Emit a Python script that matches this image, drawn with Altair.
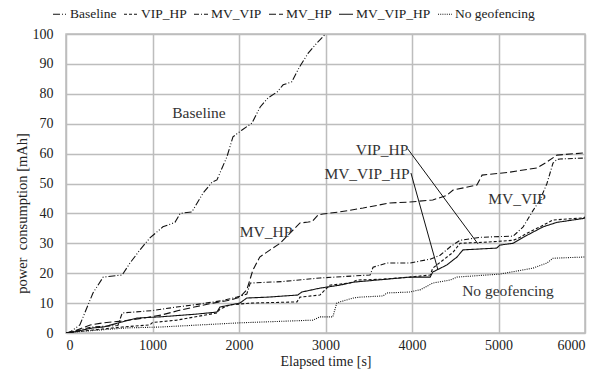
import altair as alt
import pandas as pd

FONT = "Liberation Serif, DejaVu Serif, serif"

series = ["Baseline", "VIP_HP", "MV_VIP", "MV_HP", "MV_VIP_HP", "No geofencing"]

baseline_x = [0, 46, 160, 312, 430, 650, 740, 855, 970, 1120, 1260, 1320, 1455, 1585, 1690, 1745, 1860, 1930, 2035, 2150, 2245, 2335, 2440, 2510, 2610, 2700, 2800, 2900, 3000]
baseline_y = [0, 0.3, 2.7, 13.4, 18.7, 19.4, 23.4, 27.8, 31.8, 35.5, 37, 40, 40.5, 46.8, 50.5, 51.2, 58.9, 65.6, 67.9, 70.2, 75.6, 78.6, 80.6, 83, 84, 89, 93.6, 97, 100]

viphp_x = [0, 80, 310, 650, 970, 1000, 1280, 1745, 1780, 1895, 2130, 2670, 2705, 2935, 3050, 3280, 3365, 3665, 3975, 4210, 4240, 4360, 4475, 4555, 4865, 5170, 5250, 5330, 5480, 5630, 5980, 6000]
viphp_y = [0, 0.3, 1, 2, 2.7, 3.5, 4.3, 6.7, 8, 9.4, 10, 10.4, 12, 12.7, 16, 16.7, 17.7, 18, 18.7, 19.4, 21.7, 24.4, 27, 30, 30.4, 31, 32, 33.4, 35.5, 37.8, 38.5, 38.8]

mvvip_x = [0, 80, 300, 600, 650, 1000, 1280, 1500, 1800, 1975, 2090, 2130, 2500, 2935, 3515, 3550, 3710, 3975, 4210, 4325, 4450, 4555, 4785, 5170, 5285, 5400, 5480, 5560, 5630, 5675, 5710, 5980, 6000]
mvvip_y = [0, 0.5, 2, 2.5, 6.7, 7.5, 8.7, 9.5, 10.8, 12, 13, 16.7, 17.2, 18.4, 19.4, 22, 23.4, 23.4, 24.7, 26, 29, 31, 32, 32.4, 35.5, 41, 44.5, 50, 56.8, 58, 58.2, 58.5, 58.5]

mvhp_x = [0, 80, 280, 430, 650, 900, 1100, 1300, 1500, 1700, 1900, 2010, 2090, 2160, 2240, 2360, 2475, 2590, 2705, 2800, 2845, 2915, 2970, 3165, 3435, 3745, 3975, 4240, 4400, 4475, 4750, 4810, 5130, 5445, 5560, 5675, 5980, 6000]
mvhp_y = [0, 0.5, 2.7, 3.4, 4, 5, 6, 7.5, 8.8, 10, 11, 12, 14.4, 21, 25.4, 27.8, 30, 33.4, 36.8, 37.1, 37.3, 39.5, 39.8, 40.5, 41.8, 43.5, 43.8, 44.5, 46, 47.8, 49.5, 52.8, 53.8, 55.2, 57.2, 59.5, 60.2, 60.5]

mvviphp_x = [0, 80, 310, 430, 650, 820, 1090, 1500, 1745, 1780, 2010, 2090, 2335, 2680, 2725, 2935, 3165, 3320, 3710, 3975, 4210, 4240, 4400, 4520, 4590, 4980, 5015, 5170, 5285, 5515, 5675, 5980, 6000]
mvviphp_y = [0, 0.3, 1.7, 2, 3.7, 5, 5.4, 6.3, 7, 8.7, 10, 11.7, 12, 12.7, 13.7, 15, 16, 17, 18, 18.7, 18.7, 20.4, 22.7, 25.4, 27.8, 28.4, 29.4, 30, 32, 35.5, 37, 38.3, 38.5]

nogeo_x = [0, 80, 700, 1090, 2010, 2855, 2935, 3085, 3130, 3165, 3320, 3400, 3665, 3710, 3975, 4100, 4240, 4440, 4520, 5015, 5400, 5560, 5630, 5980, 6000]
nogeo_y = [0, 0.3, 1.7, 2, 3.4, 4.3, 5.4, 5.4, 10, 10.4, 11.7, 12, 12.4, 13.4, 13.7, 14.5, 16.7, 17.7, 18.7, 19.7, 21.7, 23.4, 25, 25.4, 25.4]

dash_patterns = [[7, 2, 1, 2, 1, 2], [3, 2], [5, 2, 1, 2], [7, 3], [1, 0], [1, 1.2]]

label_text = ["Baseline", "MV_HP", "VIP_HP", "MV_VIP_HP", "MV_VIP", "No geofencing"]
label_x = [1537, 2312, 3653, 3480, 5214, 5110]
label_y = [73.6, 33.8, 61.2, 53.2, 44.8, 14.0]

leader_x = [3953, 3988]
leader_y = [61.5, 53.5]
leader_x2 = [4763, 4300]
leader_y2 = [29.8, 21.1]

x_ticks = [0, 1000, 2000, 3000, 4000, 5000, 6000]
y_ticks = list(range(0, 101, 10))

xs = [baseline_x, viphp_x, mvvip_x, mvhp_x, mvviphp_x, nogeo_x]
ys = [baseline_y, viphp_y, mvvip_y, mvhp_y, mvviphp_y, nogeo_y]
rows = []
for name, sx, sy in zip(series, xs, ys):
    for i, (a, b) in enumerate(zip(sx, sy)):
        rows.append({"series": name, "t": a, "p": b, "i": i})
df = pd.DataFrame(rows)

xscale = alt.Scale(domain=[0, 6000], nice=False)
yscale = alt.Scale(domain=[0, 100], nice=False)
xaxis = alt.Axis(values=x_ticks, format="d", title="Elapsed time [s]", labelOverlap=False,
                 titleY=32, titleBaseline="alphabetic", labelPadding=5, titleFontSize=14)
yaxis = alt.Axis(values=y_ticks, format="d", title="power\u00a0\u00a0consumption [mAh]", labelOverlap=False,
                 titleX=-44, titleY=179, titleBaseline="middle", labelPadding=13)
X = lambda f: alt.X(f, scale=xscale, axis=xaxis)
Y = lambda f: alt.Y(f, scale=yscale, axis=yaxis)

lines = alt.Chart(df).mark_line(color="#111111", strokeWidth=1.1, clip=True).encode(
    x=X("t:Q"),
    y=Y("p:Q"),
    strokeDash=alt.StrokeDash("series:N", sort=series,
                              scale=alt.Scale(domain=series, range=dash_patterns),
                              legend=alt.Legend(orient="none", legendX=-14, legendY=-28, direction="horizontal",
                                                title=None, symbolType="stroke", symbolSize=196,
                                                symbolStrokeColor="#111111", symbolStrokeWidth=1.2,
                                                labelFont=FONT, labelFontSize=13.5, labelColor="#222222",
                                                columnPadding=4, labelOffset=2, columns=6)),
    detail="series:N",
    order="i:Q",
)

labels_df = pd.DataFrame({"label": label_text, "t": label_x, "p": label_y})
texts = alt.Chart(labels_df).mark_text(font=FONT, fontSize=15.5, color="#333333", align="center",
                                       baseline="middle").encode(
    x=X("t:Q"), y=Y("p:Q"), text="label:N")

leaders_df = pd.DataFrame({"t": leader_x, "p": leader_y, "t2": leader_x2, "p2": leader_y2})
leaders = alt.Chart(leaders_df).mark_rule(color="#111111", strokeWidth=1).encode(
    x=X("t:Q"), y=Y("p:Q"), x2="t2:Q", y2="p2:Q")

chart = alt.layer(lines, leaders, texts).properties(
    width=519, height=299,
    autosize=alt.AutoSizeParams(type="none"),
    padding={"left": 66, "top": 34, "right": 27, "bottom": 36},
    background="white",
).configure_view(stroke="#bdbdbd", strokeWidth=1.5).configure_axis(
    domain=False, ticks=False, grid=True, gridColor="#bdbdbd", gridWidth=1.5,
    labelFont=FONT, labelFontSize=14, labelColor="#222222",
    titleFont=FONT, titleFontSize=14.5, titleColor="#222222", titleFontWeight="normal",
).configure_text(font=FONT).configure_legend(labelFont=FONT)

chart.save("out.html", embed_options={"renderer": "svg", "actions": False})
